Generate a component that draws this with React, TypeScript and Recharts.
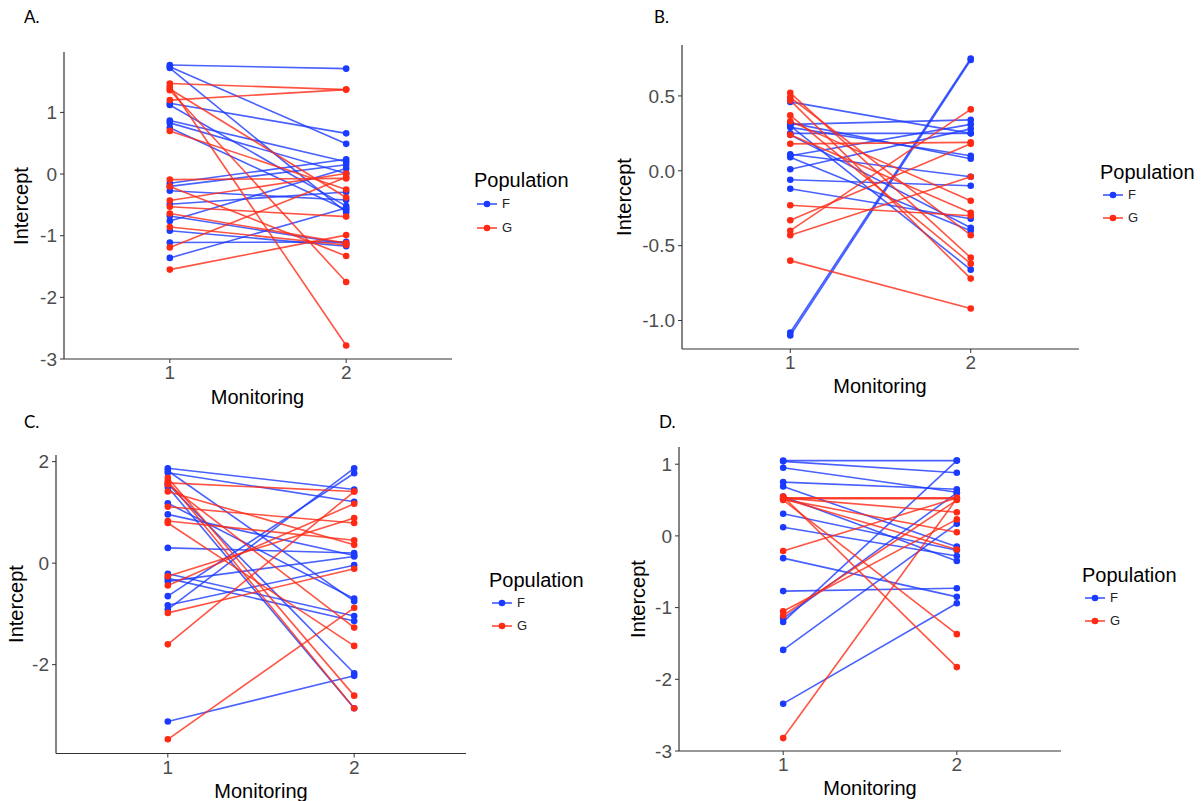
import React from 'react';
import { LineChart, Line, XAxis, YAxis } from 'recharts';

// ---------- shared ----------
const monitoring = [1, 2];
const xTickLabels = ['1', '2'];
const populations = ['F', 'G'];
const panelLetters = ['A.', 'B.', 'C.', 'D.'];

// ---------- Panel A (values at monitoring 1 and 2, one entry per individual) ----------
const aF1 = [1.77, 1.74, 1.72, 1.15, 1.12, 0.87, 0.83, 0.75, -0.15, -0.2, -0.27, -0.49, -0.68, -0.76, -0.92, -1.11, -1.36];
const aF2 = [1.71, 0.49, -0.62, 0.66, -0.52, 0.2, 0.01, -0.58, 0.24, 0.15, -0.42, -0.29, -1.13, 0.09, -1.17, -1.1, -0.55];
const aG1 = [1.47, 1.42, 1.38, 1.36, 1.2, 0.7, -0.09, -0.2, -0.43, -0.53, -0.64, -0.86, -1.19, -1.55];
const aG2 = [1.37, -2.78, -0.38, -1.75, 1.37, -0.25, -0.07, -1.33, 0.01, -0.69, -1.12, -1.15, -0.05, -0.99];
const aYTicks = [-3, -2, -1, 0, 1];

// ---------- Panel B ----------
const bF1 = [-1.08, -1.1, 0.46, 0.32, 0.31, 0.3, 0.29, 0.25, 0.24, 0.11, 0.1, 0.09, 0.01, -0.06, -0.12];
const bF2 = [0.75, 0.74, 0.25, 0.08, 0.34, -0.66, 0.1, 0.25, -0.38, -0.04, 0.31, -0.4, 0.28, -0.1, -0.32];
const bG1 = [0.52, 0.49, 0.47, 0.37, 0.33, 0.24, 0.18, -0.23, -0.33, -0.4, -0.43, -0.6];
const bG2 = [-0.58, -0.43, -0.72, -0.62, -0.2, -0.28, 0.19, -0.3, 0.18, 0.41, -0.04, -0.92];
const bYTicks = [-1.0, -0.5, 0.0, 0.5];

// ---------- Panel C ----------
const cF1 = [1.87, 1.82, 1.78, 1.56, 1.5, 1.18, 0.96, 0.3, -0.21, -0.3, -0.36, -0.65, -0.83, -0.91, -3.12];
const cF2 = [1.45, -0.75, 1.21, -2.17, -2.86, -0.7, 0.15, 0.2, -1.04, -1.14, 0.13, 1.77, -0.04, 1.87, -2.22];
const cG1 = [1.68, 1.62, 1.58, 1.55, 1.41, 1.11, 0.83, 0.79, -0.26, -0.44, -0.98, -1.6, -3.47];
const cG2 = [-2.61, -2.86, 1.41, -1.27, 0.36, 0.79, 0.45, -1.63, 0.89, 1.17, -0.11, 1.41, -0.88];
const cYTicks = [-2, 0, 2];

// ---------- Panel D ----------
const dF1 = [1.05, 1.04, 0.95, 0.75, 0.69, 0.55, 0.31, 0.12, -0.31, -0.77, -1.15, -1.2, -1.59, -2.34];
const dF2 = [1.05, 0.88, 0.61, 0.65, -0.15, -0.35, -0.2, -0.28, -0.85, -0.73, 0.6, 1.05, 0.17, -0.94];
const dG1 = [0.55, 0.53, 0.53, 0.52, 0.52, 0.51, 0.5, -0.21, -1.05, -1.11, -2.82];
const dG2 = [-1.83, 0.53, 0.33, 0.52, -0.19, 0.05, -1.37, 0.53, 0.23, 0.5, 0.52];
const dYTicks = [-3, -2, -1, 0, 1];

// ---------- style ----------
const COLORS: Record<string, string> = { F: '#1a3aff', G: '#ff2914' };
const TICK_COLOR = '#4d4d4d';
const AXIS_COLOR = '#333333';
const FONT = '"Liberation Sans", Arial, sans-serif';

type Box = { l: number; t: number; r: number; b: number };
type PanelDef = {
  letter: string;
  f1: number[]; f2: number[]; g1: number[]; g2: number[];
  yTicks: number[]; yDomain: [number, number]; decimals: number;
  plot: Box;
  letterPos: [number, number];
  yTitleX: number; xTitleY: number;
  legend: [number, number, number];
};

const panels: PanelDef[] = [
  { letter: panelLetters[0], f1: aF1, f2: aF2, g1: aG1, g2: aG2, yTicks: aYTicks, yDomain: [-3.0, 1.98], decimals: 0,
    plot: { l: 63.5, t: 52, r: 451.5, b: 359 }, letterPos: [24, 6], yTitleX: 21, xTitleY: 397, legend: [474, 180, 24] },
  { letter: panelLetters[1], f1: bF1, f2: bF2, g1: bG1, g2: bG2, yTicks: bYTicks, yDomain: [-1.19, 0.84], decimals: 1,
    plot: { l: 681.5, t: 45, r: 1078.5, b: 349 }, letterPos: [654, 6], yTitleX: 624, xTitleY: 386, legend: [1100, 172, 23] },
  { letter: panelLetters[2], f1: cF1, f2: cF2, g1: cG1, g2: cG2, yTicks: cYTicks, yDomain: [-3.75, 2.13], decimals: 0,
    plot: { l: 56, t: 455, r: 466, b: 753.5 }, letterPos: [24, 411], yTitleX: 16, xTitleY: 791, legend: [489, 580, 23] },
  { letter: panelLetters[3], f1: dF1, f2: dF2, g1: dG1, g2: dG2, yTicks: dYTicks, yDomain: [-3.0, 1.24], decimals: 0,
    plot: { l: 679, t: 447, r: 1061, b: 751 }, letterPos: [659, 411], yTitleX: 638, xTitleY: 788, legend: [1082, 575, 23] },
];

function buildLines(p: PanelDef) {
  const out: { key: string; color: string; data: { x: number; y: number }[] }[] = [];
  const groups: [string, number[], number[]][] = [
    [populations[0], p.f1, p.f2],
    [populations[1], p.g1, p.g2],
  ];
  groups.forEach(([pop, v1, v2]) => {
    v1.forEach((v, i) => {
      out.push({
        key: `${pop}-${i}`,
        color: COLORS[pop],
        data: [
          { x: monitoring[0], y: v },
          { x: monitoring[1], y: v2[i] },
        ],
      });
    });
  });
  return out;
}

function Panel({ p }: { p: PanelDef }) {
  const yw = 50;
  const xh = 30;
  const L0 = p.plot.l - yw - 5;
  const T0 = p.plot.t - 8;
  const W = p.plot.r - L0 + 8;
  const H = p.plot.b - T0 + xh + 6;
  const margin = {
    left: p.plot.l - L0 - yw,
    top: p.plot.t - T0,
    right: L0 + W - p.plot.r,
    bottom: T0 + H - p.plot.b - xh,
  };
  const lines = buildLines(p);
  return (
    <div style={{ position: 'absolute', left: L0, top: T0, width: W, height: H }}>
      <LineChart width={W} height={H} margin={margin}>
        <XAxis
          type="number"
          dataKey="x"
          domain={[0.4, 2.6]}
          ticks={monitoring}
          allowDataOverflow
          height={xh}
          tickSize={4}
          tickMargin={3}
          tick={{ fill: TICK_COLOR, fontSize: 19, fontFamily: FONT }}
          tickLine={{ stroke: AXIS_COLOR, strokeWidth: 1 }}
          axisLine={{ stroke: AXIS_COLOR, strokeWidth: 1.2 }}
          tickFormatter={(v: number) => xTickLabels[monitoring.indexOf(v)]}
        />
        <YAxis
          type="number"
          domain={p.yDomain}
          ticks={p.yTicks}
          allowDataOverflow
          width={yw}
          tickSize={4}
          tickMargin={3}
          tick={{ fill: TICK_COLOR, fontSize: 19, fontFamily: FONT }}
          tickLine={{ stroke: AXIS_COLOR, strokeWidth: 1 }}
          axisLine={{ stroke: AXIS_COLOR, strokeWidth: 1.2 }}
          tickFormatter={(v: number) => v.toFixed(p.decimals)}
        />
        {lines.map((ln) => (
          <Line
            key={ln.key}
            data={ln.data}
            dataKey="y"
            type="linear"
            stroke={ln.color}
            strokeOpacity={0.8}
            strokeWidth={1.6}
            dot={{ r: 3.3, fill: ln.color, stroke: 'none', fillOpacity: 1, strokeOpacity: 0 }}
            activeDot={false}
            isAnimationActive={false}
          />
        ))}
      </LineChart>
    </div>
  );
}

function Legend({ x, y, gap }: { x: number; y: number; gap: number }) {
  return (
    <>
      <div
        style={{
          position: 'absolute', left: x, top: y - 12, height: 24, lineHeight: '24px',
          fontFamily: FONT, fontSize: 20, color: '#000', whiteSpace: 'nowrap',
        }}
      >
        Population
      </div>
      {populations.map((pop, i) => {
        const cy = y + gap * (i + 1);
        return (
          <React.Fragment key={pop}>
            <svg width={22} height={10} style={{ position: 'absolute', left: x + 2, top: cy - 5 }}>
              <line x1={1} y1={5} x2={21} y2={5} stroke={COLORS[pop]} strokeWidth={1.6} strokeOpacity={0.85} />
              <circle cx={11} cy={5} r={3.3} fill={COLORS[pop]} />
            </svg>
            <div
              style={{
                position: 'absolute', left: x + 28, top: cy - 8, height: 16, lineHeight: '16px',
                fontFamily: FONT, fontSize: 13, color: '#222',
              }}
            >
              {pop}
            </div>
          </React.Fragment>
        );
      })}
    </>
  );
}

export default function App() {
  return (
    <div style={{ position: 'absolute', left: 0, top: 0, width: 1202, height: 801, background: '#fff', overflow: 'hidden' }}>
      {panels.map((p) => (
        <React.Fragment key={p.letter}>
          <div
            style={{ position: 'absolute', left: p.letterPos[0], top: p.letterPos[1], fontFamily: 'Lato, "Open Sans", sans-serif', fontSize: 17, lineHeight: '22px', color: '#000' }}
          >
            {p.letter}
          </div>
          <Panel p={p} />
          <div
            style={{
              position: 'absolute',
              left: p.yTitleX,
              top: (p.plot.t + p.plot.b) / 2,
              transform: 'translate(-50%, -50%) rotate(-90deg)',
              fontFamily: FONT,
              fontSize: 20,
              color: '#000',
              whiteSpace: 'nowrap',
            }}
          >
            Intercept
          </div>
          <div
            style={{
              position: 'absolute',
              left: (p.plot.l + p.plot.r) / 2,
              top: p.xTitleY,
              transform: 'translate(-50%, -50%)',
              fontFamily: FONT,
              fontSize: 20,
              color: '#000',
              whiteSpace: 'nowrap',
            }}
          >
            Monitoring
          </div>
          <Legend x={p.legend[0]} y={p.legend[1]} gap={p.legend[2]} />
        </React.Fragment>
      ))}
    </div>
  );
}
